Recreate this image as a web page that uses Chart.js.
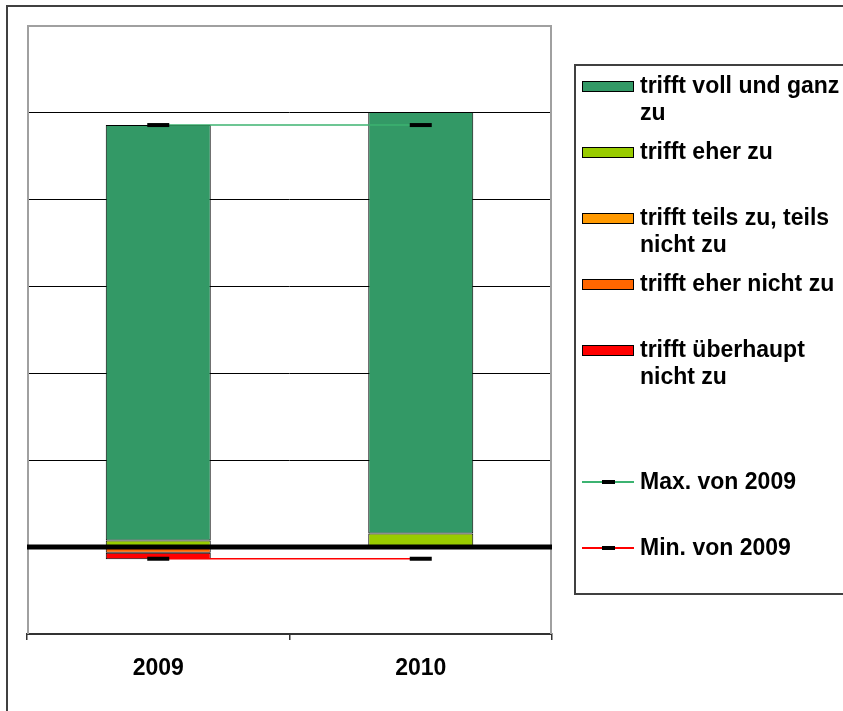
<!DOCTYPE html>
<html><head><meta charset="utf-8">
<script src="https://cdn.jsdelivr.net/npm/chart.js@4.4.1/dist/chart.umd.min.js"></script>
<style>
html,body{margin:0;padding:0;background:#fff;width:843px;height:711px;overflow:hidden;font-family:"Liberation Sans",Arial,sans-serif;}
#frame{position:absolute;left:6px;top:5px;width:1000px;height:1000px;border-left:2px solid #404040;border-top:2px solid #404040;box-sizing:border-box;}
#wrap{position:absolute;left:0;top:0;width:843px;height:711px;}
#legendBox{position:absolute;left:574px;top:64px;width:400px;height:531px;border:2px solid #404040;box-sizing:border-box;background:#fff;}
.txt{position:absolute;left:640px;width:203px;font-weight:bold;font-size:23px;line-height:27px;color:#000;white-space:normal;}
.sw{position:absolute;left:582px;width:52px;height:11px;border:1px solid #000;box-sizing:border-box;}
.ln{position:absolute;left:582px;width:52px;height:2px;}
.dash{position:absolute;left:602px;width:13px;height:4px;background:#000;}
</style>
</head><body>
<div id="frame"></div>
<div id="legendBox"></div>
<div id="wrap"><canvas id="c"></canvas></div>
<div id="legend"></div>
<script>
const categories = ['2009', '2010'];
const seriesNames = ['trifft voll und ganz zu', 'trifft eher zu', 'trifft teils zu, teils nicht zu', 'trifft eher nicht zu', 'trifft überhaupt nicht zu'];
const seriesColors = ['#339966', '#99CC00', '#FF9900', '#FF6600', '#FF0000'];
const vollUndGanz = [95.5, 96.9];
const eherZu = [1.5, 3.1];
const teilsTeils = [0, 0];
const eherNicht = [-1.3, 0];
const ueberhaupt = [-1.5, 0];
const maxName = 'Max. von 2009';
const maxValues = [97.0, 97.0];
const minName = 'Min. von 2009';
const minValues = [-2.7, -2.7];
const yMin = -20, yMax = 120, yStep = 20;

const barValues = [vollUndGanz, eherZu, teilsTeils, eherNicht, ueberhaupt];
// stacking order from zero outward: eher zu, voll und ganz, teils, eher nicht, ueberhaupt
const stackOrder = [1, 0, 2, 3, 4];

const datasets = stackOrder.map(i => ({
  type: 'bar',
  label: seriesNames[i],
  data: barValues[i],
  backgroundColor: seriesColors[i],
  borderColor: '#000',
  borderWidth: 1,
  borderSkipped: false,
  stack: 'bars',
  order: 1,
  categoryPercentage: 1.0,
  barPercentage: 0.4
}));
const lineDs = (label, data, color, stack) => ({
  type: 'line', label, data, stack, order: 0,
  borderColor: color, borderWidth: 1.5, fill: false,
  pointStyle: 'line', pointRadius: 11, pointHoverRadius: 11,
  pointBorderWidth: 4, pointBorderColor: '#000', pointBackgroundColor: '#000'
});
datasets.push(lineDs(maxName, maxValues, '#3CB371', 'max'));
datasets.push(lineDs(minName, minValues, '#FF0000', 'min'));

const plotFrame = {
  id: 'plotFrame',
  beforeDatasetsDraw(chart) {
    const {ctx, chartArea: a} = chart;
    ctx.save();
    ctx.strokeStyle = '#A0A0A0';
    ctx.lineWidth = 2;
    ctx.beginPath();
    ctx.moveTo(a.left + 1, a.bottom);
    ctx.lineTo(a.left + 1, a.top + 1);
    ctx.lineTo(a.right - 1, a.top + 1);
    ctx.lineTo(a.right - 1, a.bottom);
    ctx.stroke();
    ctx.restore();
  },
  afterDatasetsDraw(chart) {
    const {ctx, chartArea: a, scales} = chart;
    const y0 = scales.y.getPixelForValue(0);
    ctx.save();
    ctx.strokeStyle = '#000';
    ctx.lineWidth = 5;
    ctx.beginPath();
    ctx.moveTo(a.left, y0);
    ctx.lineTo(a.right, y0);
    ctx.stroke();
    ctx.restore();
  }
};

new Chart(document.getElementById('c'), {
  data: { labels: categories, datasets },
  plugins: [plotFrame],
  options: {
    responsive: true, maintainAspectRatio: false, animation: false,
    layout: { padding: { left: 27, top: 25, right: 291, bottom: 0 } },
    plugins: { legend: { display: false }, tooltip: { enabled: false } },
    scales: {
      y: {
        stacked: true, min: yMin, max: yMax,
        ticks: { display: false, stepSize: yStep },
        border: { display: false },
        grid: {
          drawTicks: false,
          color: c => (c.tick && (c.tick.value === yMax || c.tick.value === yMin)) ? 'rgba(0,0,0,0)' : '#000',
          lineWidth: 1
        },
        afterFit: s => { s.width = 0; }
      },
      x: {
        stacked: true,
        grid: { offset: true, drawOnChartArea: false, drawTicks: true, tickLength: 6, color: '#333', lineWidth: 1.5 },
        border: { display: true, color: '#333', width: 2 },
        ticks: { color: '#000', padding: 15, font: { family: 'Liberation Sans', weight: 'bold', size: 23 } },
        afterFit: s => { s.height = 77; }
      }
    }
  }
});

// HTML legend
const legendEl = document.getElementById('legend');
const slotY = slot => 86 + 66 * slot;
const legendItems = [
  { kind: 'box', name: seriesNames[0], color: seriesColors[0], slot: 0 },
  { kind: 'box', name: seriesNames[1], color: seriesColors[1], slot: 1 },
  { kind: 'box', name: seriesNames[2], color: seriesColors[2], slot: 2 },
  { kind: 'box', name: seriesNames[3], color: seriesColors[3], slot: 3 },
  { kind: 'box', name: seriesNames[4], color: seriesColors[4], slot: 4 },
  { kind: 'line', name: maxName, color: '#3CB371', slot: 6 },
  { kind: 'line', name: minName, color: '#FF0000', slot: 7 }
];
legendItems.forEach(it => {
  const cy = slotY(it.slot);
  if (it.kind === 'box') {
    const sw = document.createElement('div');
    sw.className = 'sw';
    sw.style.top = (cy - 5.5) + 'px';
    sw.style.background = it.color;
    legendEl.appendChild(sw);
  } else {
    const ln = document.createElement('div');
    ln.className = 'ln';
    ln.style.top = (cy - 1) + 'px';
    ln.style.background = it.color;
    legendEl.appendChild(ln);
    const d = document.createElement('div');
    d.className = 'dash';
    d.style.top = (cy - 2) + 'px';
    legendEl.appendChild(d);
  }
  const t = document.createElement('div');
  t.className = 'txt';
  t.style.top = (cy - 14) + 'px';
  t.textContent = it.name;
  legendEl.appendChild(t);
});
</script>
</body></html>
